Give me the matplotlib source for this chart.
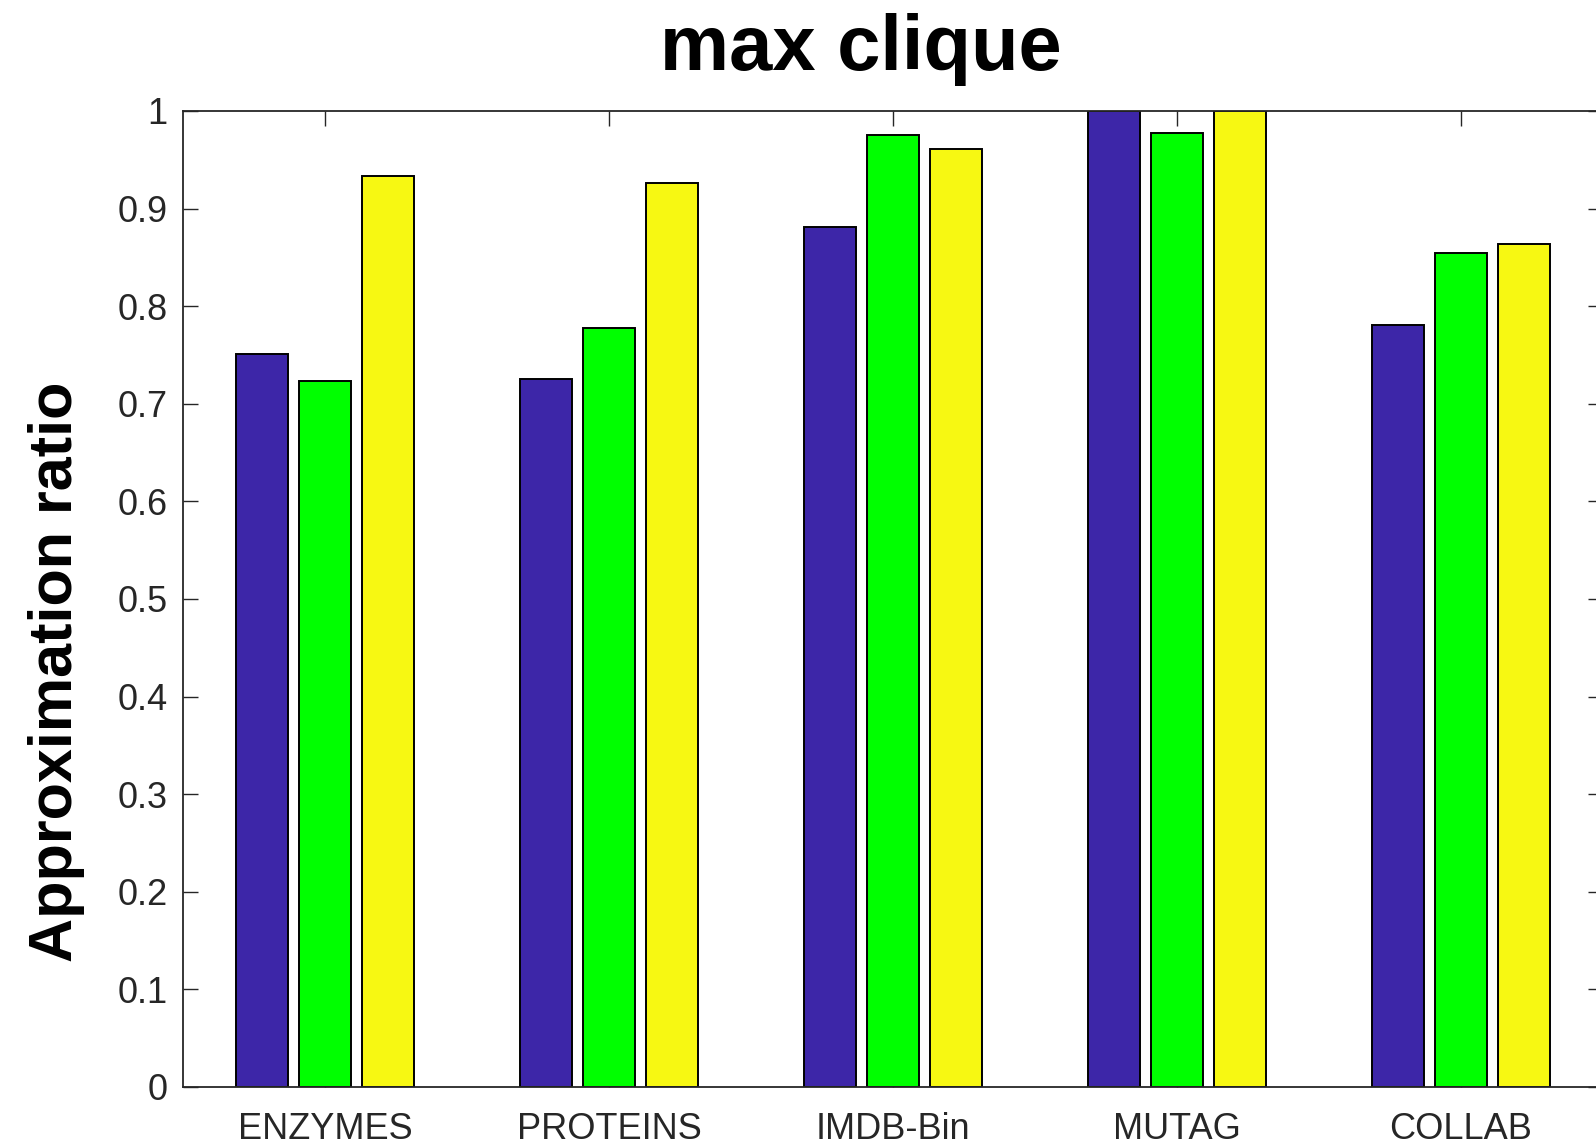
import matplotlib
matplotlib.use("Agg")
import matplotlib.pyplot as plt
import numpy as np

plt.rcParams['font.family'] = ['Liberation Sans', 'DejaVu Sans']

datasets = ["ENZYMES", "PROTEINS", "IMDB-Bin", "MUTAG", "COLLAB"]
series_a = [0.751, 0.725, 0.881, 1.000, 0.781]
series_b = [0.723, 0.778, 0.975, 0.977, 0.855]
series_c = [0.933, 0.926, 0.961, 1.000, 0.864]
series_colors = ["#3d26a8", "#00ff00", "#f7f812"]
yticks = [0, 0.1, 0.2, 0.3, 0.4, 0.5, 0.6, 0.7, 0.8, 0.9, 1]
ytick_labels = ["0", "0.1", "0.2", "0.3", "0.4", "0.5", "0.6", "0.7", "0.8", "0.9", "1"]

W, H = 1596, 1146
fig = plt.figure(figsize=(W / 100, H / 100), dpi=100)
left, right, bottom, top = 183, 1603, 1087, 111
ax = fig.add_axes([left / W, 1 - bottom / H, (right - left) / W, (bottom - top) / H])

x = np.arange(1, len(datasets) + 1)
offset = 0.222
width = 0.18
for k, vals in enumerate([series_a, series_b, series_c]):
    ax.bar(x + (k - 1) * offset, vals, width, color=series_colors[k],
           edgecolor="black", linewidth=1.4, zorder=2)

ax.set_xlim(0.5, 5.5)
ax.set_ylim(0, 1)
ax.set_xticks(x)
ax.set_xticklabels(datasets)
ax.set_yticks(yticks)
ax.set_yticklabels(ytick_labels)

gray = "#262626"
for s in ax.spines.values():
    s.set_color(gray)
    s.set_linewidth(1.3)
    s.set_zorder(3)
ax.tick_params(axis="both", direction="in", length=11, width=1.0, color=gray,
               labelcolor=gray, labelsize=26, top=True, right=True)
ax.tick_params(axis="x", pad=18)
ax.tick_params(axis="y", pad=11)

fig.text(861 / W, 1 - 70 / H, "max clique", fontsize=56, fontweight="bold",
         ha="center", va="baseline", color="black")
fig.text(72 / W, 1 - 672 / H, "Approximation ratio", fontsize=44, fontweight="bold",
         rotation=90, rotation_mode="anchor", ha="center", va="baseline", color="black")

fig.savefig("out.png", dpi=100)
